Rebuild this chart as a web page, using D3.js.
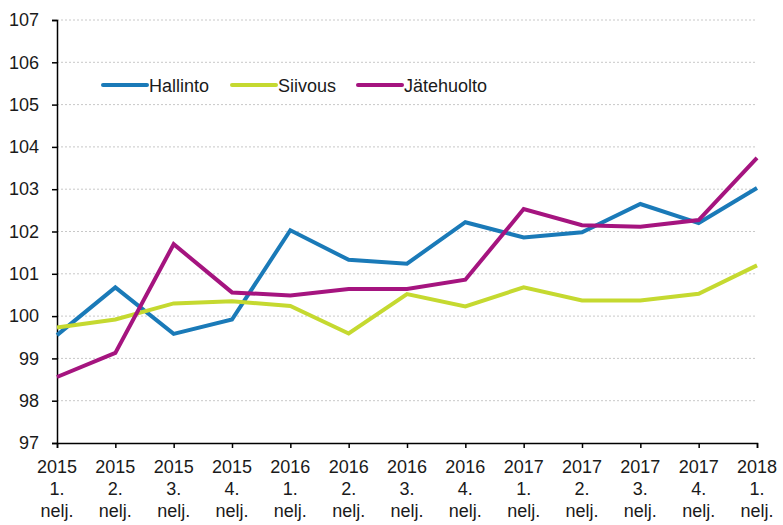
<!DOCTYPE html>
<html>
<head>
<meta charset="utf-8">
<script src="https://cdn.jsdelivr.net/npm/d3@7"></script>
<style>
  body { margin: 0; background: #fff; }
  text { font-family: "Liberation Sans", Arial, sans-serif; fill: #1a1a1a; }
</style>
</head>
<body>
<script>
// Chart size
var w = 783;
var h = 525;
var margin = {top: 20, right: 26, bottom: 82, left: 57};

// Quarter labels: year and quarter
var years = ["2015", "2015", "2015", "2015", "2016", "2016", "2016", "2016", "2017", "2017", "2017", "2017", "2018"];
var quarters = ["1.", "2.", "3.", "4.", "1.", "2.", "3.", "4.", "1.", "2.", "3.", "4.", "1."];

// Series values
var hallinto = [99.55, 100.68, 99.58, 99.92, 102.03, 101.33, 101.24, 102.22, 101.86, 101.98, 102.65, 102.2, 103.03];
var siivous = [99.73, 99.92, 100.3, 100.35, 100.24, 99.59, 100.52, 100.23, 100.68, 100.37, 100.37, 100.53, 101.2];
var jatehuolto = [98.56, 99.13, 101.7, 100.56, 100.49, 100.64, 100.64, 100.86, 102.53, 102.15, 102.11, 102.27, 103.74];

var seriesNames = ["Hallinto", "Siivous", "Jätehuolto"];
var seriesData = [hallinto, siivous, jatehuolto];
var colors = ["#1a7ab8", "#c5d930", "#a5147f"];

var yTicks = [97, 98, 99, 100, 101, 102, 103, 104, 105, 106, 107];

var svg = d3.select("body")
    .append("svg")
    .attr("width", w)
    .attr("height", h);

var x = d3.scalePoint()
    .domain(d3.range(years.length))
    .range([margin.left, w - margin.right]);

var y = d3.scaleLinear()
    .domain([97, 107])
    .range([h - margin.bottom, margin.top]);

// Dashed gridlines
svg.append("g")
    .selectAll("line")
    .data(yTicks.slice(1))
    .enter()
    .append("line")
    .attr("x1", margin.left)
    .attr("x2", w - margin.right)
    .attr("y1", function(d){ return y(d); })
    .attr("y2", function(d){ return y(d); })
    .attr("stroke", "#c8c8c8")
    .attr("stroke-width", 1)
    .attr("stroke-dasharray", "2,2");

// Y axis
var yAxis = svg.append("g")
    .attr("transform", "translate(" + margin.left + ",0)")
    .call(d3.axisLeft(y).tickValues(yTicks).tickSize(5).tickPadding(13));
yAxis.select(".domain").attr("stroke", "#000").attr("stroke-width", 1.5);
yAxis.selectAll(".tick line").attr("stroke", "#000").attr("stroke-width", 1.5);
yAxis.selectAll("text")
    .style("font-size", "18px")
    .style("font-family", "Liberation Sans, Arial, sans-serif")
    .attr("fill", "#1a1a1a");

// X axis
var xAxis = svg.append("g")
    .attr("transform", "translate(0," + y(97) + ")")
    .call(d3.axisBottom(x).tickSize(5).tickFormat(""));
xAxis.select(".domain").attr("stroke", "#000").attr("stroke-width", 1.5);
xAxis.selectAll(".tick line").attr("stroke", "#000").attr("stroke-width", 1.5);

// Three line x labels
var xLabels = svg.append("g")
    .selectAll("text")
    .data(years)
    .enter()
    .append("text")
    .attr("x", function(d, i){ return x(i); })
    .attr("y", y(97) + 30)
    .attr("text-anchor", "middle")
    .style("font-size", "18px");
xLabels.append("tspan").text(function(d){ return d; });
xLabels.append("tspan")
    .attr("x", function(d, i){ return x(i); })
    .attr("dy", 22)
    .text(function(d, i){ return quarters[i]; });
xLabels.append("tspan")
    .attr("x", function(d, i){ return x(i); })
    .attr("dy", 22)
    .text("nelj.");

// Lines
var line = d3.line()
    .x(function(d, i){ return x(i); })
    .y(function(d){ return y(d); });

svg.append("g")
    .selectAll("path")
    .data(seriesData)
    .enter()
    .append("path")
    .attr("fill", "none")
    .attr("stroke", function(d, i){ return colors[i]; })
    .attr("stroke-width", 4)
    .attr("stroke-linejoin", "miter")
    .attr("d", line);

// Legend
var legendX = [103, 232, 358];
var legend = svg.append("g")
    .selectAll("g")
    .data(seriesNames)
    .enter()
    .append("g")
    .attr("transform", function(d, i){ return "translate(" + legendX[i] + ",85)"; });
legend.append("line")
    .attr("x1", 0)
    .attr("x2", 44)
    .attr("stroke", function(d, i){ return colors[i]; })
    .attr("stroke-width", 4)
    .attr("stroke-linecap", "round");
legend.append("text")
    .attr("x", 46)
    .attr("y", 6.5)
    .style("font-size", "18px")
    .text(function(d){ return d; });
</script>
</body>
</html>
